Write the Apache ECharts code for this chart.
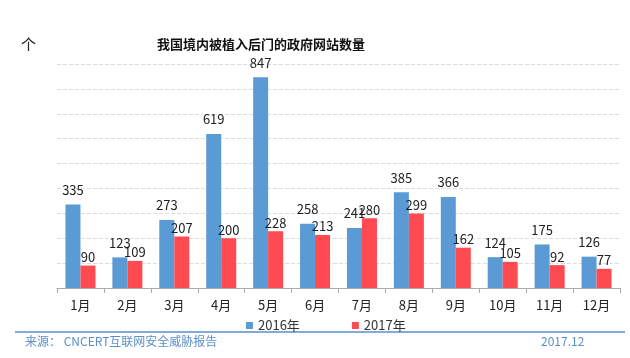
<!DOCTYPE html>
<html><head><meta charset="utf-8">
<script src="https://cdn.jsdelivr.net/npm/echarts@6/dist/echarts.min.js"></script>
<style>html,body{margin:0;padding:0;background:#fff}#c{width:630px;height:358px}</style>
</head><body><div id="c"></div>
<script>
var categories = ['1月','2月','3月','4月','5月','6月','7月','8月','9月','10月','11月','12月'];
var values2016 = [335,123,273,619,847,258,241,385,366,124,175,126];
var values2017 = [90,109,207,200,228,213,280,299,162,105,92,77];
var seriesNames = ['2016年','2017年'];

var chart = echarts.init(document.getElementById('c'));
var font = '"Noto Sans CJK SC", "Noto Sans", sans-serif';
chart.setOption({
  animation:false,
  textStyle:{fontFamily:font},
  title:{text:'我国境内被植入后门的政府网站数量',left:152,top:33,padding:5,
    textStyle:{fontSize:13,fontWeight:'bold',color:'#111',fontFamily:font}},
  legend:{data:seriesNames,top:314,left:241,itemWidth:7,itemHeight:7,itemGap:52,icon:'rect',
    textStyle:{fontSize:13,color:'#333'}},
  grid:{left:57,right:10,top:64,bottom:70},
  xAxis:{type:'category',data:categories,
    axisLine:{lineStyle:{color:'#aaa'}},
    axisTick:{show:true,lineStyle:{color:'#aaa'}},
    axisLabel:{fontSize:13,color:'#222',margin:11}},
  yAxis:{type:'value',min:0,max:900,interval:100,
    axisLabel:{show:false},axisLine:{show:false},axisTick:{show:false},
    splitLine:{lineStyle:{color:'#ddd',type:'dashed'}}},
  series:[
    {name:seriesNames[0],type:'bar',data:values2016,barWidth:15,barGap:'0%',
      itemStyle:{color:'#5B9BD5'},
      label:{show:true,position:'top',fontSize:13,color:'#222',distance:8}},
    {name:seriesNames[1],type:'bar',data:values2017,barWidth:15,
      itemStyle:{color:'#FF4A52'},
      label:{show:true,position:'top',fontSize:13,color:'#222',distance:2}}
  ],
  graphic:[
    {type:'text',left:21,top:37,style:{text:'个',fontSize:15,fill:'#222',fontFamily:font}},
    {type:'line',shape:{x1:15,y1:332,x2:625,y2:332},style:{stroke:'#5B8FC8',lineWidth:1.5}},
    {type:'text',left:25,top:335,style:{text:'来源： CNCERT互联网安全威胁报告',fontSize:12,fill:'#5B8FC8',fontFamily:font}},
    {type:'text',left:541,top:335,style:{text:'2017.12',fontSize:12,fill:'#5B8FC8',fontFamily:font}}
  ]
});
</script></body></html>
